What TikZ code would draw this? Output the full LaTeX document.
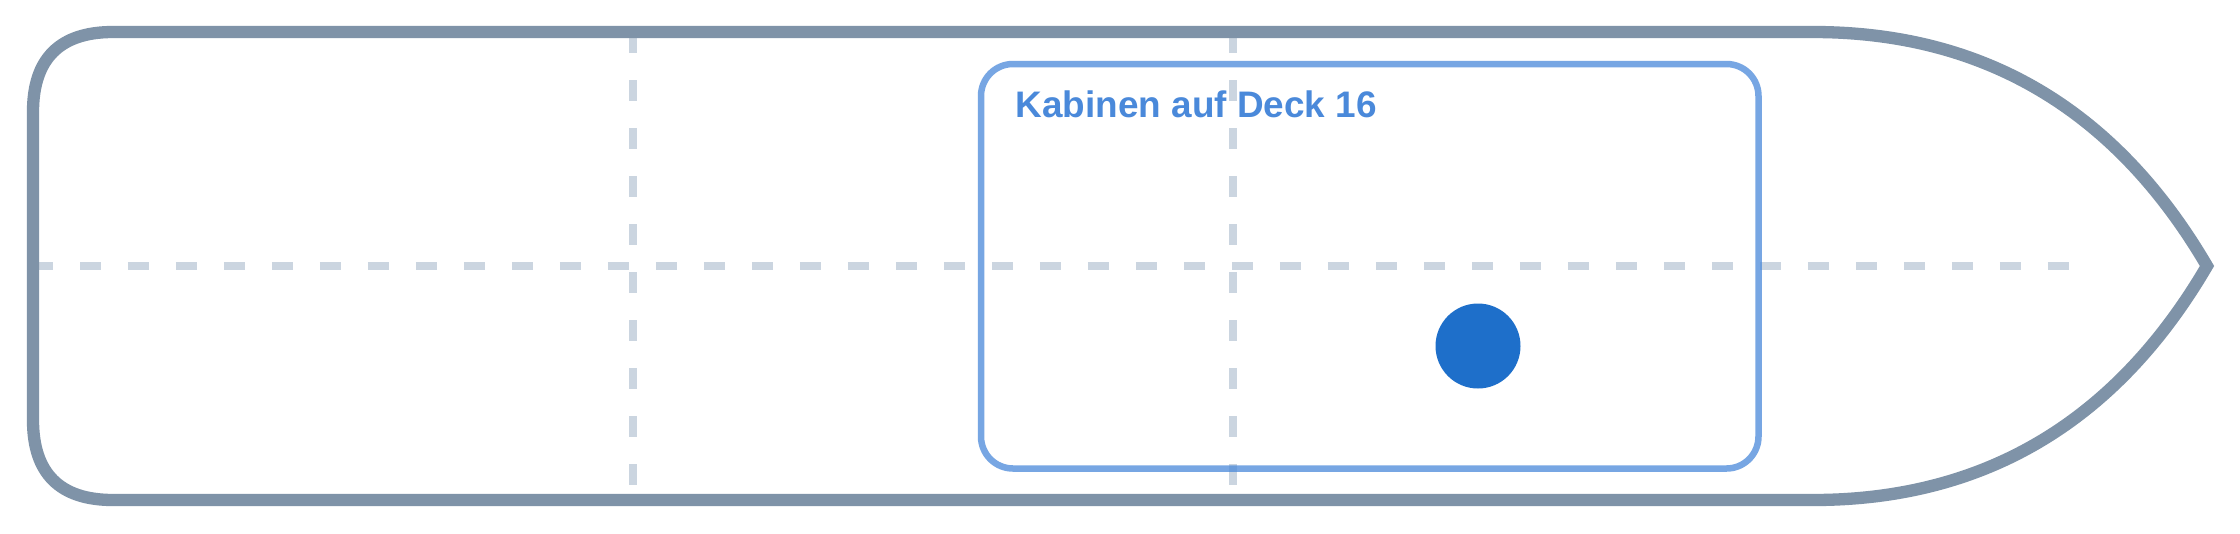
\documentclass[tikz,border=0pt]{standalone}
\usepackage{fontspec}
\setmainfont{Liberation Sans}
\usepackage{tikz}
\usetikzlibrary{positioning}
\definecolor{hullgray}{HTML}{7F93A8}
\definecolor{gridgray}{HTML}{CBD5E0}
\definecolor{cabinblue}{HTML}{4A89DA}
\definecolor{dotblue}{HTML}{1E6FCA}
\tikzset{hull/.style={draw=hullgray, line width=1.23mm, line join=miter}}
\tikzset{gridline/.style={draw=gridgray, line width=0.8mm, dash pattern=on 2.1mm off 2.7mm}}
\tikzset{cabin/.style={draw=cabinblue, draw opacity=0.75, line width=0.65mm, rounded corners=3.2mm}}
\tikzset{marker/.style={circle, fill=dotblue, inner sep=0pt, minimum size=8.5mm}}

\begin{document}
\begin{tikzpicture}[x=0.1mm, y=-0.1mm]
\fill[white] (0,0) rectangle (2240,533);
\useasboundingbox (0,0) rectangle (2240,533);
\draw[gridline] (32,266) -- (2070,266);
\draw[gridline] (633,32) -- (633,500);
\draw[gridline] (1233,32) -- (1233,500);
\draw[hull] (33,112) .. controls (33,58.7) and (59.7,32) .. (113,32)
  -- (1813,32) .. controls (1984.3,32) and (2115.7,110) .. (2207,266)
  .. controls (2115.7,422) and (1984.3,500) .. (1813,500)
  -- (113,500) .. controls (59.7,500) and (33,473.3) .. (33,420) -- cycle;
\draw[cabin] (981,64) rectangle (1758.5,468.5);
\node[anchor=base west, inner sep=0pt, text=cabinblue, font=\fontsize{10.5pt}{12pt}\selectfont\bfseries] (title) at (1015,117.3) {Kabinen auf Deck 16};
\node[marker] (cabin16) at (1478,346) {};
\end{tikzpicture}
\end{document}
